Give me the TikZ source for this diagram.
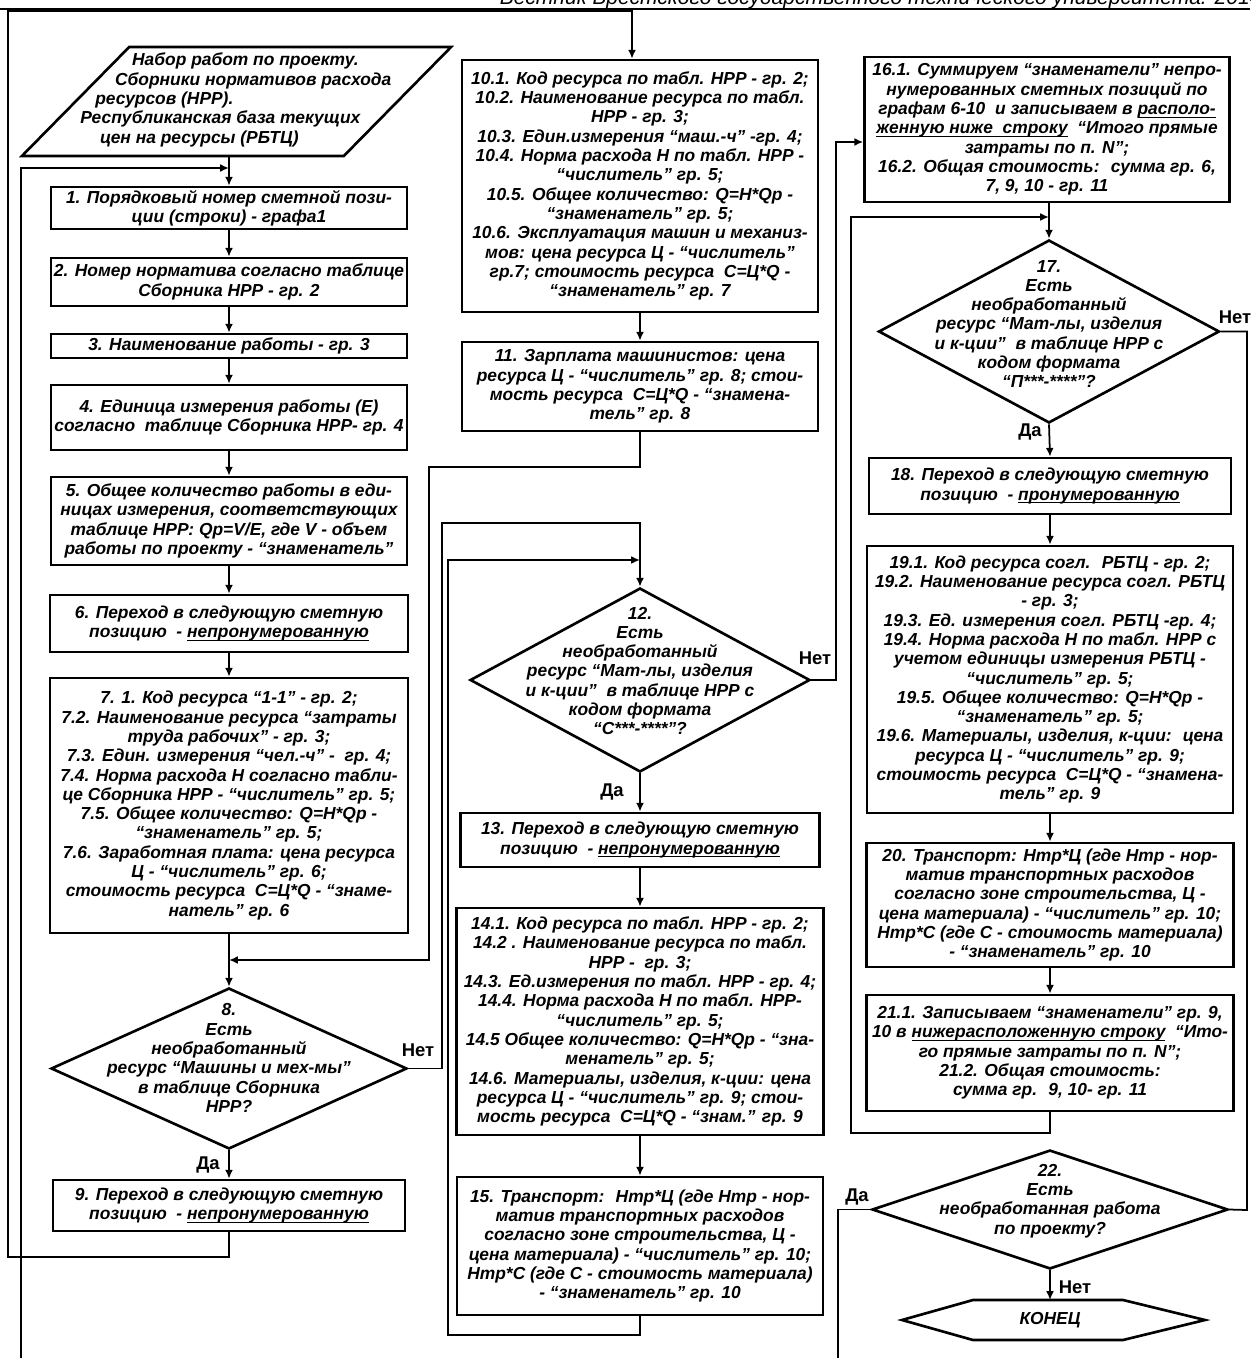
\documentclass[tikz,border=0pt]{standalone}
\usepackage{fontspec}
\setmainfont{Liberation Sans}
\usepackage{tikz}
\usetikzlibrary{calc, positioning, arrows.meta, shapes.geometric}
\tikzstyle{blk}=[draw, line width=1.5pt, align=center, inner sep=1pt, font=\fontsize{9.9}{11}\selectfont\bfseries\itshape]
\tikzstyle{dec}=[draw, shape=diamond, line width=1.5pt, inner sep=0pt]
\tikzstyle{dtxt}=[align=center, inner sep=0pt, font=\fontsize{9.9}{11}\selectfont\bfseries\itshape]
\tikzstyle{lnk}=[line width=1pt]
\tikzstyle{ans}=[inner sep=1pt, font=\fontsize{10.5}{12}\selectfont\bfseries]
\tikzset{>={Latex[length=5pt,width=4.5pt]}}
\newcommand{\undl}[1]{\underline{\smash{#1}}}

\begin{document}
\begin{tikzpicture}[x=0.02cm, y=-0.02cm]
\useasboundingbox (0,0) rectangle (1250,1358);
\clip (0,0) rectangle (1250,1358);
\node[anchor=base east, inner sep=0pt, font=\fontsize{12}{14}\selectfont\itshape] (hdr) at (1262,5) {Вестник Брестского государственного технического университета. 2014};
\draw[line width=0.8pt] (0,9) -- (1250,9);
%
% column 1
\node[trapezium, trapezium left angle=45, trapezium right angle=135, trapezium stretches=true, draw, line width=1.5pt, minimum width=8.62cm, minimum height=2.18cm, inner sep=0pt] (src) at (236.5,101.5) {\phantom{\rule{1cm}{0.5cm}}};
\node[dtxt, align=left, anchor=west] (srct) at (80,100) {\hspace*{29.5pt}Набор работ по проекту.\\\hspace*{19.8pt}Сборники нормативов расхода\\\hspace*{8.5pt}ресурсов (НРР).\\Республиканская база текущих\\\hspace*{11.3pt}цен на ресурсы (РБТЦ)};
\node[blk, minimum width=7.12cm, minimum height=0.84cm] (b1) at (229,208) {1. Порядковый номер сметной пози-\\ции (строки) - графа1};
\node[blk, minimum width=7.12cm, minimum height=0.96cm] (b2) at (229,282) {2. Номер норматива согласно таблице\\Сборника НРР - гр. 2};
\node[blk, minimum width=7.12cm, minimum height=0.48cm] (b3) at (229,346) {3. Наименование работы - гр. 3};
\node[blk, minimum width=7.12cm, minimum height=1.30cm] (b4) at (229,417.5) {4. Единица измерения работы (Е)\\согласно~ таблице Сборника НРР- гр. 4};
\node[blk, minimum width=7.12cm, minimum height=1.76cm] (b5) at (229,521) {5. Общее количество работы в еди-\\ницах измерения, соответствующих\\таблице НРР: Qp=V/E, где V - объем\\работы по проекту - “знаменатель”};
\node[blk, minimum width=7.16cm, minimum height=1.14cm] (b6) at (229,623.5) {6. Переход в следующую сметную\\позицию~ - \undl{непронумерованную}};
\node[blk, minimum width=7.16cm, minimum height=5.10cm] (b7) at (229,805.5) {7. 1. Код ресурса “1-1" - гр. 2;\\7.2. Наименование ресурса “затраты\\труда рабочих” - гр. 3;\\7.3. Един. измерения “чел.-ч” -~ гр. 4;\\7.4. Норма расхода Н согласно табли-\\це Сборника НРР - “числитель” гр. 5;\\7.5. Общее количество: Q=Н*Qp -\\“знаменатель” гр. 5;\\7.6. Заработная плата: цена ресурса\\Ц - “числитель” гр. 6;\\стоимость ресурса~ С=Ц*Q - “знаме-\\натель” гр. 6};
\node[dec, minimum width=7.12cm, minimum height=3.22cm] (d8) at (229,1068.5) {};
\node[dtxt] (d8t) at (229,1058) {8.\\Есть\\необработанный\\ресурс “Машины и мех-мы”\\в таблице Сборника\\НРР?};
\node[blk, minimum width=7.04cm, minimum height=1.02cm] (b9) at (229,1205.5) {9. Переход в следующую сметную\\позицию~ - \undl{непронумерованную}};
%
% column 2
\node[blk, minimum width=7.12cm, minimum height=5.04cm] (b10) at (640,186) {10.1. Код ресурса по табл. НРР - гр. 2;\\10.2. Наименование ресурса по табл.\\НРР - гр. 3;\\10.3. Един.измерения “маш.-ч” -гр. 4;\\10.4. Норма расхода Н по табл. НРР -\\“числитель” гр. 5;\\10.5. Общее количество: Q=Н*Qp -\\“знаменатель” гр. 5;\\10.6. Эксплуатация машин и механиз-\\мов: цена ресурса Ц - “числитель”\\гр.7; стоимость ресурса~ С=Ц*Q -\\“знаменатель” гр. 7};
\node[blk, minimum width=7.12cm, minimum height=1.78cm] (b11) at (640,386.5) {11. Зарплата машинистов: цена\\ресурса Ц - “числитель” гр. 8; стои-\\мость ресурса~ С=Ц*Q - “знамена-\\тель” гр. 8};
\node[dec, minimum width=6.8cm, minimum height=3.68cm] (d12) at (640,680) {};
\node[dtxt] (d12t) at (640,671) {12.\\Есть\\необработанный\\ресурс “Мат-лы, изделия\\и к-ции”~ в таблице НРР с\\кодом формата\\“С***-****”?};
\node[blk, minimum width=7.18cm, minimum height=1.08cm] (b13) at (640,840) {13. Переход в следующую сметную\\позицию~ - \undl{непронумерованную}};
\node[blk, minimum width=7.34cm, minimum height=4.54cm] (b14) at (640,1021.5) {14.1. Код ресурса по табл. НРР - гр. 2;\\14.2 . Наименование ресурса по табл.\\НРР -~ гр. 3;\\14.3. Ед.измерения по табл. НРР - гр. 4;\\14.4. Норма расхода Н по табл. НРР-\\“числитель” гр. 5;\\14.5 Общее количество: Q=Н*Qp - “зна-\\менатель” гр. 5;\\14.6. Материалы, изделия, к-ции: цена\\ресурса Ц - “числитель” гр. 9; стои-\\мость ресурса~ С=Ц*Q - “знам.” гр. 9};
\node[blk, minimum width=7.32cm, minimum height=2.76cm] (b15) at (640,1246) {15. Транспорт:~ Нтр*Ц (где Нтр - нор-\\матив транспортных расходов\\согласно зоне строительства, Ц -\\цена материала) - “числитель” гр. 10;\\Нтр*С (где С - стоимость материала)\\- “знаменатель” гр. 10};
%
% column 3
\node[blk, minimum width=7.3cm, minimum height=2.9cm] (b16) at (1047,129.5) {16.1. Суммируем “знаменатели” непро-\\нумерованных сметных позиций по\\графам 6-10~ и записываем в \undl{располо-}\\\undl{женную ниже~ строку}~ “Итого прямые\\затраты по п. N”;\\16.2. Общая стоимость:~ сумма гр. 6,\\7, 9, 10 - гр. 11};
\node[dec, minimum width=6.82cm, minimum height=3.66cm] (d17) at (1049,331.5) {};
\node[dtxt] (d17t) at (1049,324) {17.\\Есть\\необработанный\\ресурс “Мат-лы, изделия\\и к-ции”~ в таблице НРР с\\кодом формата\\“П***-****”?};
\node[blk, minimum width=7.24cm, minimum height=1.12cm] (b18) at (1050,486) {18. Переход в следующую сметную\\позицию~ - \undl{пронумерованную}};
\node[blk, minimum width=7.32cm, minimum height=5.34cm] (b19) at (1050,679.5) {19.1. Код ресурса согл.~ РБТЦ - гр. 2;\\19.2. Наименование ресурса согл. РБТЦ\\- гр. 3;\\19.3. Ед. измерения согл. РБТЦ -гр. 4;\\19.4. Норма расхода Н по табл. НРР с\\учетом единицы измерения РБТЦ -\\“числитель” гр. 5;\\19.5. Общее количество: Q=Н*Qp -\\“знаменатель” гр. 5;\\19.6. Материалы, изделия, к-ции:~ цена\\ресурса Ц - “числитель” гр. 9;\\стоимость ресурса~ С=Ц*Q - “знамена-\\тель” гр. 9};
\node[blk, minimum width=7.34cm, minimum height=2.48cm] (b20) at (1050,905) {20. Транспорт: Нтр*Ц (где Нтр - нор-\\матив транспортных расходов\\согласно зоне строительства, Ц -\\цена материала) - “числитель” гр. 10;\\Нтр*С (где С - стоимость материала)\\- “знаменатель” гр. 10};
\node[blk, minimum width=7.34cm, minimum height=2.32cm] (b21) at (1050,1053) {21.1. Записываем “знаменатели” гр. 9,\\10 в \undl{нижерасположенную строку}~ “Ито-\\го прямые затраты по п. N”;\\21.2. Общая стоимость:\\сумма гр.~ 9, 10- гр. 11};
\node[dec, minimum width=7.12cm, minimum height=2.38cm] (d22) at (1050,1209.5) {};
\node[dtxt] (d22t) at (1050,1201) {22.\\Есть\\необработанная работа\\по проекту?};
\node[inner sep=0pt, font=\fontsize{9.9}{11}\selectfont\bfseries\itshape] (fin) at (1050,1320) {КОНЕЦ};
\draw[line width=1.5pt] ($(fin)+(-148,0)$) -- ($(fin)+(-77,-20)$) -- ($(fin)+(73,-20)$) -- ($(fin)+(155,0)$) -- ($(fin)+(73,20)$) -- ($(fin)+(-77,20)$) -- cycle;
%
% answers
\node[ans] (no8) at (418,1050) {Нет};
\node[ans] (yes8) at (208,1165) {Да};
\node[ans] (no12) at (815,658) {Нет};
\node[ans] (yes12) at (612,792) {Да};
\node[ans] (no17) at (1235,317) {Нет};
\node[ans] (yes17) at (1030,432) {Да};
\node[ans] (yes22) at (857,1197) {Да};
\node[ans] (no22) at (1075,1287) {Нет};
%
% junctions and rails
\coordinate (j1) at (229,168);
\coordinate (j8) at (229,960);
\coordinate (j12) at (640,560);
\coordinate (j17) at (1049,217);
\coordinate (lpA) at (21,1358);
\coordinate (lpB) at (838,1358);
\coordinate (r9) at (8,1257);
\coordinate (r9t) at (8,11);
\coordinate (r11) at (429,467);
\coordinate (r8) at (442,523);
\coordinate (r15) at (448,1335);
\coordinate (r12) at (836,142);
\coordinate (r21) at (851,1133);
\coordinate (r17) at (1247,1210);
%
\draw[lnk,->] (src.south -| j1) -- (b1.north);
\draw[lnk,->] (lpA) |- (j1);
\draw[lnk,->] (b1) -- (b2);
\draw[lnk,->] (b2) -- (b3);
\draw[lnk,->] (b3) -- (b4);
\draw[lnk,->] (b4) -- (b5);
\draw[lnk,->] (b5) -- (b6);
\draw[lnk,->] (b6) -- (b7);
\draw[lnk,->] (b7.south) -- (d8.north);
\draw[lnk,->] (d8.south) -- (b9.north);
\draw[lnk,->] (b11.south) |- (r11) |- (j8);
\draw[lnk,->] (b9.south) |- (r9) -- (r9t) -| ($(b10.north)+(-8,0)$);
\draw[lnk,->] (d8.east) -| (r8) -| (d12.north);
\draw[lnk,->] (b15.south) |- (r15) |- (j12);
\draw[lnk,->] (b10) -- (b11);
\draw[lnk,->] (d12.south) -- (b13.north);
\draw[lnk,->] (b13) -- (b14);
\draw[lnk,->] (b14) -- (b15);
\draw[lnk,->] (d12.east) -| (r12) -- (r12 -| b16.west);
\draw[lnk,->] (b16.south -| d17.north) -- (d17.north);
\draw[lnk,->] (b21.south) |- (r21) |- (j17);
\draw[lnk,->] (d17.south) -- (b18.north);
\draw[lnk,->] (b18) -- (b19);
\draw[lnk,->] (b19) -- (b20);
\draw[lnk,->] (b20) -- (b21);
\draw[lnk] (d17.east) -| (r17) -- (d22.east);
\draw[lnk] (d22.west) -| (lpB);
\draw[lnk,->] (d22.south) -- ($(fin)+(0,-20)$);
\end{tikzpicture}
\end{document}
